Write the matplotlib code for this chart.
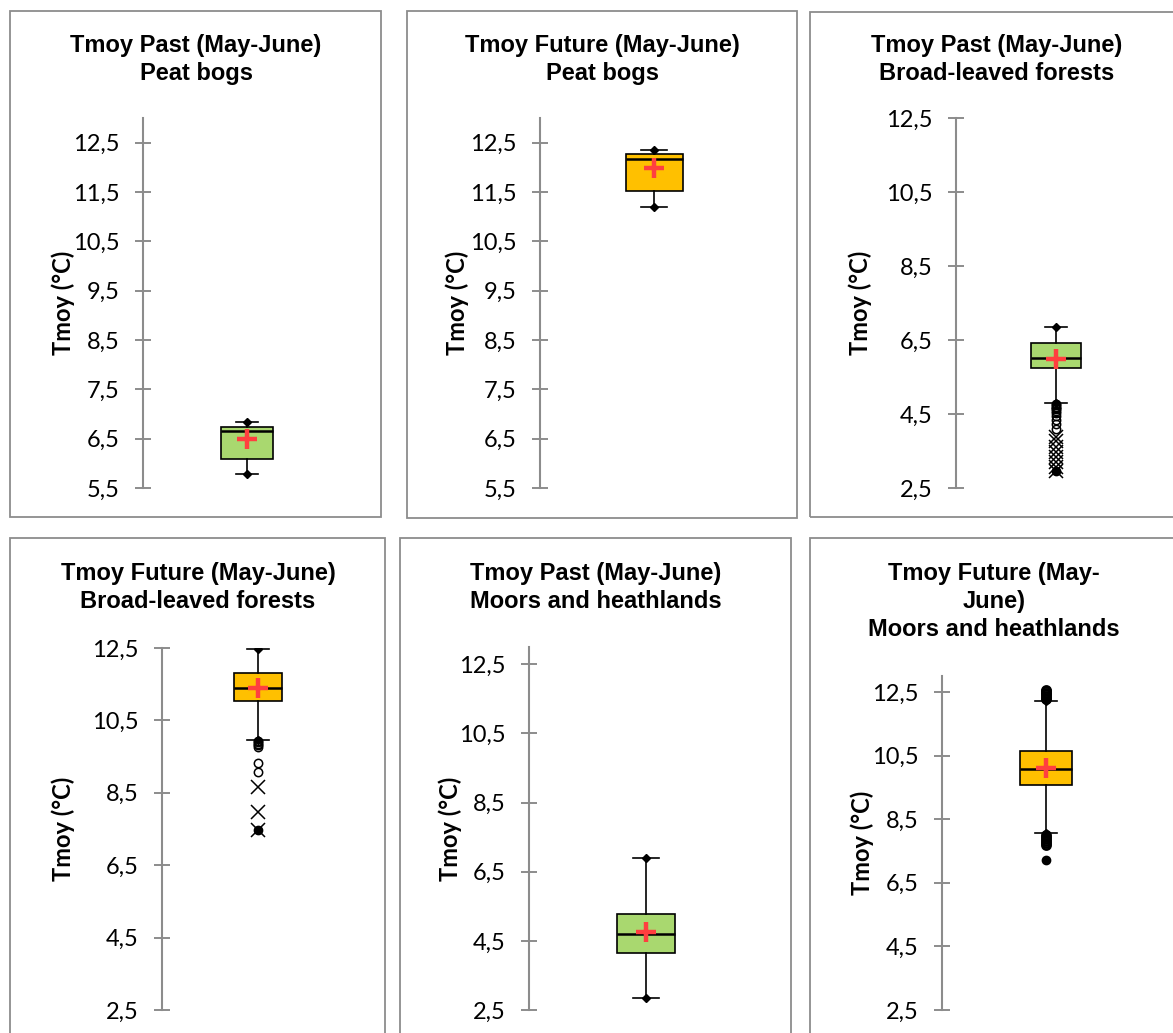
import matplotlib
matplotlib.use("Agg")
import matplotlib.pyplot as plt
from matplotlib.patches import Rectangle

# ---------------- data ----------------
titles = [
    "Tmoy Past (May-June)\nPeat bogs",
    "Tmoy Future (May-June)\nPeat bogs",
    "Tmoy Past (May-June)\nBroad-leaved forests",
    "Tmoy Future (May-June)\nBroad-leaved forests",
    "Tmoy Past (May-June)\nMoors and heathlands",
    "Tmoy Future (May-\nJune)\nMoors and heathlands",
]
ylabel = "Tmoy (°C)"
period = ["Past", "Future", "Past", "Future", "Past", "Future"]

q1 = [6.09, 11.53, 5.74, 11.04, 4.15, 9.58]
median = [6.66, 12.17, 6.01, 11.39, 4.69, 10.09]
q3 = [6.74, 12.28, 6.42, 11.81, 5.27, 10.65]
whisker_low = [5.79, 11.20, 4.79, 9.96, 2.84, 8.05]
whisker_high = [6.84, 12.36, 6.85, 12.47, 6.89, 12.22]
mean = [6.50, 11.99, 5.99, 11.40, 4.75, 10.12]

outliers_circle = [
    [],
    [],
    [4.76, 4.73, 4.70, 4.67, 4.63, 4.58, 4.52, 4.44, 4.33, 4.22, 4.10],
    [9.93, 9.89, 9.85, 9.81, 9.77, 9.32, 9.08],
    [],
    [12.27, 12.32, 12.37, 12.42, 12.47, 12.52, 12.57, 8.00, 7.94, 7.88, 7.82, 7.76, 7.68],
]
outliers_x = [
    [],
    [],
    [3.88, 3.76, 3.62, 3.48, 3.34, 3.20, 3.07],
    [8.66, 7.97],
    [],
    [],
]
extreme_min = [None, None, 2.95, 7.48, None, 7.20]

yticks_a = [5.5, 6.5, 7.5, 8.5, 9.5, 10.5, 11.5, 12.5]
yticklabels_a = ["5,5", "6,5", "7,5", "8,5", "9,5", "10,5", "11,5", "12,5"]
yticks_b = [2.5, 4.5, 6.5, 8.5, 10.5, 12.5]
yticklabels_b = ["2,5", "4,5", "6,5", "8,5", "10,5", "12,5"]

# ---------------- layout (pixels) ----------------
W, H = 1173, 1033
panels = [  # border x0, y0, x1, y1
    (10, 11, 381, 517),
    (407, 11, 797, 518),
    (810, 12, 1190, 517),
    (10, 538, 385, 1045),
    (400, 538, 791, 1045),
    (810, 538, 1190, 1045),
]
axes_px = [  # left, right, top, bottom
    (143, 351, 118, 488),
    (540, 768, 118, 488),
    (956, 1156, 118, 488),
    (162, 354, 648, 1010),
    (529, 763, 647, 1010),
    (942, 1150, 676, 1010),
]
ylims = [(5.5, 13.0), (5.5, 13.0), (2.5, 12.5), (2.5, 12.5), (2.5, 13.0), (2.5, 13.0)]
title_y = [45, 45, 45, 573, 573, 573]
title_x = [196, 602, 997, 198, 596, 994]
ylabel_x = [63, 457, 860, 63, 450, 862]

colors = {"Past": "#A9D86F", "Future": "#FFC000"}
gray = "#8C8C8C"

fig = plt.figure(figsize=(W / 100, H / 100), dpi=100)
fig.patch.set_facecolor("white")

for i in range(6):
    x0, y0, x1, y1 = panels[i]
    fig.patches.append(Rectangle((x0 / W, 1 - y1 / H), (x1 - x0) / W, (y1 - y0) / H,
                                 transform=fig.transFigure, fill=False,
                                 edgecolor=gray, linewidth=1.3))
    l, r, t, b = axes_px[i]
    ax = fig.add_axes([l / W, 1 - b / H, (r - l) / W, (b - t) / H])
    ax.set_facecolor("none")

    stats = dict(med=median[i], q1=q1[i], q3=q3[i], whislo=whisker_low[i],
                 whishi=whisker_high[i], mean=mean[i], fliers=[])
    ax.bxp([stats], positions=[1], widths=0.5, capwidths=[0.22], patch_artist=True,
           showmeans=True, showfliers=False,
           boxprops=dict(facecolor=colors[period[i]], edgecolor="black", linewidth=1.2),
           medianprops=dict(color="black", linewidth=1.8),
           whiskerprops=dict(color="black", linewidth=1.2),
           capprops=dict(color="black", linewidth=1.2),
           meanprops=dict(marker="+", markersize=15, markeredgewidth=3.2,
                          markeredgecolor="#FF3F3F", zorder=6))
    ax.plot([1, 1], [whisker_low[i], whisker_high[i]], linestyle="none", marker="D",
            markersize=4.5, color="black", zorder=5)
    mew_c = 1.8 if i == 5 else 1.1
    if outliers_circle[i]:
        ax.plot([1] * len(outliers_circle[i]), outliers_circle[i], linestyle="none",
                marker="o", markersize=6, markerfacecolor="none",
                markeredgecolor="black", markeredgewidth=mew_c, zorder=5)
    if outliers_x[i]:
        ax.plot([1] * len(outliers_x[i]), outliers_x[i], linestyle="none",
                marker="x", markersize=10.5, markeredgecolor="black",
                markeredgewidth=1.1, zorder=5)
    if extreme_min[i] is not None:
        ax.plot([1], [extreme_min[i]], linestyle="none", marker="o", markersize=6,
                color="black", zorder=5)
        if outliers_x[i]:
            ax.plot([1], [extreme_min[i]], linestyle="none", marker="x", markersize=10.5,
                    markeredgecolor="black", markeredgewidth=1.1, zorder=5)

    for s in ["top", "right", "bottom"]:
        ax.spines[s].set_visible(False)
    ax.spines["left"].set_color(gray)
    ax.spines["left"].set_linewidth(1.5)
    ax.set_xlim(0, 2)
    ax.set_ylim(*ylims[i])
    ax.set_xticks([])
    if i < 2:
        ax.set_yticks(yticks_a)
        ax.set_yticklabels(yticklabels_a)
    else:
        ax.set_yticks(yticks_b)
        ax.set_yticklabels(yticklabels_b)
    ax.tick_params(axis="y", direction="inout", length=11.5, width=1.4, color=gray,
                   labelsize=17, pad=11, labelcolor="black")
    for lab in ax.get_yticklabels():
        lab.set_fontfamily("Lato")

    fig.text(title_x[i] / W, 1 - (title_y[i] - 11) / H, titles[i], ha="center", va="top",
             fontsize=17, fontweight="bold", family="Liberation Sans",
             linespacing=1.27)
    fig.text(ylabel_x[i] / W, 1 - ((t + b) / 2) / H, ylabel, rotation=90,
             ha="center", va="center", fontsize=17, fontweight="bold", family="Lato")

fig.savefig("out.png", dpi=100, facecolor="white")
